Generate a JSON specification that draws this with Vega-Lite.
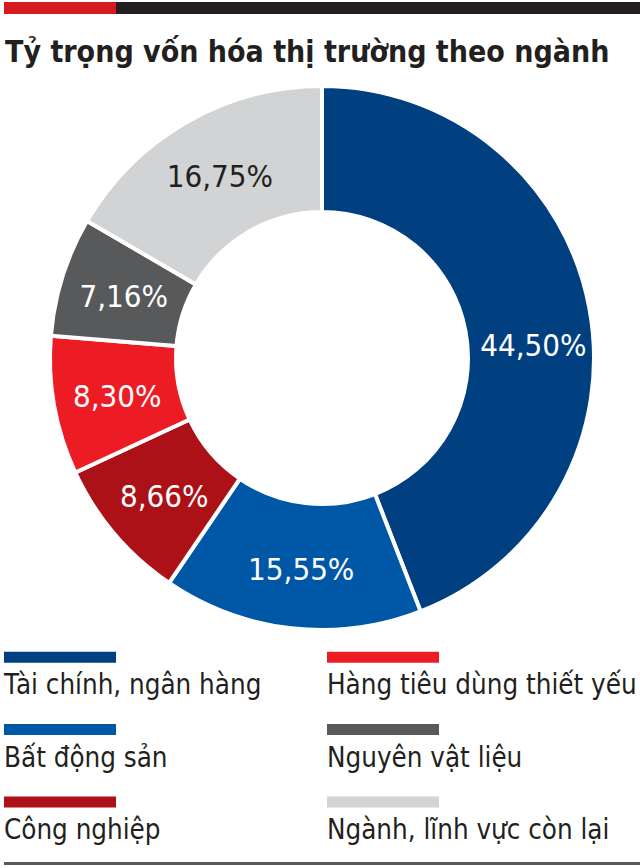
{
  "$schema": "https://vega.github.io/schema/vega-lite/v6.json",
  "background": "white",
  "padding": {"left": 4, "top": 2, "right": 0, "bottom": 0},
  "spacing": 17,
  "config": {
    "view": {"stroke": null},
    "font": "DejaVu Sans Condensed",
    "locale": {"number": {"decimal": ",", "thousands": ".", "grouping": [3], "currency": ["", " đ"]}}
  },
  "resolve": {"scale": {"color": "independent"}},
  "vconcat": [
    {
      "width": 636,
      "height": 19,
      "data": {"values": [{"phan": "đỏ", "w": 112}, {"phan": "đen", "w": 524}]},
      "mark": {"type": "bar"},
      "encoding": {
        "x": {"field": "w", "type": "quantitative", "stack": "zero", "scale": {"domain": [0, 636], "nice": false}, "axis": null},
        "y": {"datum": "thanh", "type": "nominal", "scale": {"paddingInner": 0, "paddingOuter": 0.29, "align": 0}, "axis": null},
        "color": {"field": "phan", "type": "nominal", "scale": {"domain": ["đỏ", "đen"], "range": ["#d71920", "#231f20"]}, "legend": null},
        "order": {"field": "phan", "type": "nominal", "sort": "descending"}
      }
    },
    {
      "width": 636,
      "height": 560,
      "title": {
        "text": "Tỷ trọng vốn hóa thị trường theo ngành",
        "anchor": "start",
        "fontSize": 30,
        "fontWeight": "bold",
        "font": "DejaVu Sans Condensed",
        "color": "#231f20",
        "offset": 10,
        "dx": 1
      },
      "data": {"values": [
        {"nganh": "Tài chính, ngân hàng", "ty_trong": 0.4450, "stt": 1},
        {"nganh": "Bất động sản", "ty_trong": 0.1555, "stt": 2},
        {"nganh": "Công nghiệp", "ty_trong": 0.0866, "stt": 3},
        {"nganh": "Hàng tiêu dùng thiết yếu", "ty_trong": 0.0830, "stt": 4},
        {"nganh": "Nguyên vật liệu", "ty_trong": 0.0716, "stt": 5},
        {"nganh": "Ngành, lĩnh vực còn lại", "ty_trong": 0.1675, "stt": 6}
      ]},
      "encoding": {
        "theta": {"field": "ty_trong", "type": "quantitative", "stack": true},
        "order": {"field": "stt", "type": "quantitative"}
      },
      "layer": [
        {
          "mark": {"type": "arc", "radius": 272, "radius2": 146, "stroke": "white", "strokeWidth": 4},
          "encoding": {
            "color": {
              "field": "nganh",
              "type": "nominal",
              "scale": {
                "domain": ["Tài chính, ngân hàng", "Hàng tiêu dùng thiết yếu", "Bất động sản", "Nguyên vật liệu", "Công nghiệp", "Ngành, lĩnh vực còn lại"],
                "range": ["#003f80", "#ed1c24", "#0057a6", "#58595b", "#ad1118", "#d1d3d4"]
              },
              "legend": {
                "orient": "bottom",
                "columns": 2,
                "title": null,
                "symbolType": "M-1,-0.759H1V-0.5625H-1Z",
                "symbolSize": 12544,
                "symbolStrokeWidth": 0,
                "symbolOffset": 0,
                "symbolOpacity": 1,
                "labelOffset": -112,
                "labelBaseline": "alphabetic",
                "labelFontSize": 27.5,
                "labelFont": "DejaVu Sans Condensed",
                "labelColor": "#231f20",
                "labelLimit": 400,
                "rowPadding": 10.5,
                "columnPadding": 65,
                "offset": 0
              }
            }
          }
        },
        {
          "mark": {"type": "text", "radius": 211, "fontSize": 31, "font": "DejaVu Sans Condensed", "dx": 3, "dy": 3},
          "encoding": {
            "text": {"condition": {"test": "datum.stt === 1", "value": ""}, "field": "ty_trong", "type": "quantitative", "format": ".2%"},
            "fill": {"condition": {"test": "datum.stt === 6", "value": "#231f20"}, "value": "white"}
          }
        },
        {
          "mark": {"type": "text", "radius": 211, "fontSize": 31, "font": "DejaVu Sans Condensed", "dx": 4, "dy": 28, "fill": "white"},
          "encoding": {
            "text": {"condition": {"test": "datum.stt !== 1", "value": ""}, "field": "ty_trong", "type": "quantitative", "format": ".2%"}
          }
        }
      ]
    },
    {
      "width": 636,
      "height": 3,
      "data": {"values": [{"w": 1}]},
      "mark": {"type": "bar", "color": "#58595b"},
      "encoding": {
        "x": {"field": "w", "type": "quantitative", "scale": {"domain": [0, 1], "nice": false}, "axis": null},
        "y": {"datum": "duong", "type": "nominal", "scale": {"paddingInner": 0, "paddingOuter": 0}, "axis": null}
      }
    }
  ]
}
